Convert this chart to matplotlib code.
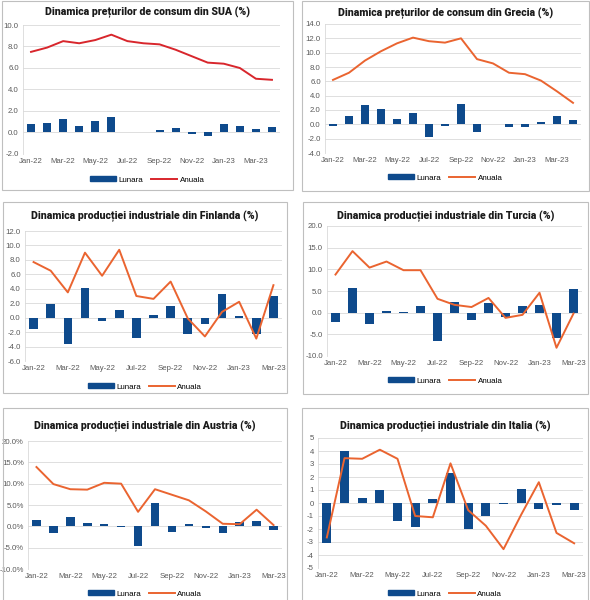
import matplotlib
matplotlib.use("Agg")
import matplotlib.pyplot as plt
from matplotlib.patches import Rectangle, Patch
from matplotlib.lines import Line2D
from matplotlib.ticker import FuncFormatter, MultipleLocator

months16 = ["Jan-22", "Feb-22", "Mar-22", "Apr-22", "May-22", "Jun-22", "Jul-22", "Aug-22",
            "Sep-22", "Oct-22", "Nov-22", "Dec-22", "Jan-23", "Feb-23", "Mar-23", "Apr-23"]
months15 = months16[:15]

# CPI SUA
sua_lunara = [0.8, 0.9, 1.3, 0.6, 1.1, 1.4, 0.0, 0.0, 0.2, 0.4, -0.1, -0.3, 0.8, 0.6, 0.3, 0.5]
sua_anuala = [7.5, 7.9, 8.5, 8.3, 8.6, 9.1, 8.5, 8.3, 8.2, 7.7, 7.1, 6.5, 6.4, 6.0, 5.0, 4.9]

# CPI Grecia
gre_lunara = [-0.3, 1.1, 2.7, 2.1, 0.7, 1.6, -1.8, -0.3, 2.9, -1.1, 0.0, -0.4, -0.4, 0.3, 1.2, 0.6]
gre_anuala = [6.2, 7.2, 8.9, 10.2, 11.3, 12.1, 11.6, 11.4, 12.0, 9.1, 8.5, 7.2, 7.0, 6.1, 4.6, 3.0]

# productie industriala Finlanda
fin_lunara = [-1.5, 1.9, -3.7, 4.1, -0.4, 1.1, -2.8, 0.4, 1.6, -2.3, -0.9, 3.3, 0.2, -2.3, 3.0]
fin_anuala = [7.7, 6.5, 3.5, 9.0, 5.8, 9.4, 3.0, 2.6, 5.0, -0.1, -2.6, 0.8, 2.2, -2.9, 4.5]

# productie industriala Turcia
tur_lunara = [-2.2, 5.7, -2.7, 0.4, 0.2, 1.5, -6.6, 2.4, -1.6, 2.2, -1.0, 1.5, 1.8, -5.9, 5.4]
tur_anuala = [8.8, 14.2, 10.4, 11.8, 9.8, 9.8, 3.2, 1.8, 1.3, 3.4, -1.2, -0.5, 4.6, -8.1, -0.2]

# productie industriala Austria
aut_lunara = [1.6, -1.6, 2.1, 0.8, 0.6, -0.1, -4.7, 5.4, -1.3, 0.5, -0.3, -1.5, 1.0, 1.3, -0.8]
aut_anuala = [13.9, 9.9, 8.7, 8.6, 10.2, 10.0, 3.4, 8.7, 7.4, 6.1, 3.5, 0.6, 0.5, 3.9, 0.3]

# productie industriala Italia
ita_lunara = [-3.1, 4.0, 0.4, 1.0, -1.35, -1.85, 0.3, 2.3, -2.0, -1.0, -0.1, 1.1, -0.45, -0.15, -0.55]
ita_anuala = [-2.65, 3.45, 3.4, 4.1, 3.4, -1.0, -1.1, 3.05, -0.55, -1.75, -3.55, -0.9, 1.6, -2.3, -3.1]

W, H = 590, 600
BLUE = "#0E4A8C"
RED = "#D8262C"
ORANGE = "#EA6430"
GRAY = "#595959"
TFONT = ["Roboto", "DejaVu Sans"]
FONT = ["Liberation Sans", "DejaVu Sans"]

fig = plt.figure(figsize=(W / 100, H / 100), dpi=100)
renderer = fig.canvas.get_renderer()

# title size: fit the longest title to its width in the picture (~227 px)
probe = fig.text(0, 0, "Dinamica producției industriale din Finlanda (%)", fontsize=10,
                 fontweight="black", family=TFONT)
TSIZE = 10 * 227 / probe.get_window_extent(renderer).width
probe.remove()


def rect(l, t, r, b):
    # pixels (top-left origin) -> figure fraction
    return [l / W, 1 - b / H, (r - l) / W, (b - t) / H]


def fmt1(v, pos):
    return "%.1f" % v


def fmtpct(v, pos):
    return "%.1f%%" % v


def fmtint(v, pos):
    return "%d" % round(v)


def panel(box, area, title, title_y, legend_y, months, lunara, anuala,
          ylo, yhi, step, fmt, lcolor):
    l, t, r, b = box
    fig.patches.append(Rectangle((l / W, 1 - b / H), (r - l) / W, (b - t) / H,
                                 transform=fig.transFigure, fill=False,
                                 edgecolor="#BFBFBF", linewidth=0.8))
    fig.text(((l + r) / 2) / W, 1 - title_y / H, title, ha="center", va="center",
             fontsize=TSIZE, fontweight="black", family=TFONT, color="#1a1a1a")

    ax = fig.add_axes(rect(*area))
    x = list(range(len(months)))
    ax.bar(x, lunara, width=0.5, color=BLUE, zorder=2)
    ax.plot(x, anuala, color=lcolor, linewidth=1.4, zorder=3)
    ax.set_xlim(-0.5, len(months) - 0.5)
    ax.set_ylim(ylo, yhi)
    ax.yaxis.set_major_locator(MultipleLocator(step))
    ax.yaxis.set_major_formatter(FuncFormatter(fmt))
    ax.set_xticks(x[::2])
    ax.set_xticklabels(months[::2])
    ax.grid(axis="y", color="#D9D9D9", linewidth=0.6, zorder=0)
    ax.set_axisbelow(True)
    for s in ["top", "right", "bottom"]:
        ax.spines[s].set_visible(False)
    ax.spines["left"].set_color("#D9D9D9")
    ax.spines["left"].set_linewidth(0.6)
    ax.tick_params(length=0, labelsize=5.6, labelcolor=GRAY, pad=3)
    for lab in ax.get_xticklabels() + ax.get_yticklabels():
        lab.set_family(FONT)

    handles = [Patch(facecolor=BLUE, edgecolor=BLUE),
               Line2D([0], [0], color=lcolor, linewidth=1.4)]
    fig.legend(handles, ["Lunara", "Anuala"], loc="center",
               bbox_to_anchor=(((l + r) / 2) / W, 1 - legend_y / H),
               ncol=2, frameon=False, handlelength=3.2,
               handleheight=0.5, columnspacing=1.0, handletextpad=0.3,
               prop={"family": FONT, "size": 5.8})


panel((2, 1, 293, 190), (23, 25, 280, 154), "Dinamica prețurilor de consum din SUA (%)",
      12, 180, months16, sua_lunara, sua_anuala, -2, 10, 2, fmt1, RED)
panel((302, 1, 589, 191), (325, 24, 581, 153), "Dinamica prețurilor de consum din Grecia (%)",
      13, 178, months16, gre_lunara, gre_anuala, -4, 14, 2, fmt1, ORANGE)
panel((3, 202, 287, 393), (25, 231, 282, 361), "Dinamica producției industriale din Finlanda (%)",
      216, 387, months15, fin_lunara, fin_anuala, -6, 12, 2, fmt1, ORANGE)
panel((303, 202, 588, 394), (327, 226, 582, 356), "Dinamica producției industriale din Turcia (%)",
      216, 381, months15, tur_lunara, tur_anuala, -10, 20, 5, fmt1, ORANGE)
panel((3, 408, 287, 601), (28, 441, 282, 569), "Dinamica producției industriale din Austria (%)",
      426, 594, months15, aut_lunara, aut_anuala, -10, 20, 5, fmtpct, ORANGE)
panel((302, 408, 588, 601), (318, 438, 583, 568), "Dinamica producției industriale din Italia (%)",
      426, 594, months15, ita_lunara, ita_anuala, -5, 5, 1, fmtint, ORANGE)

fig.savefig("out.png", dpi=100, facecolor="white")
